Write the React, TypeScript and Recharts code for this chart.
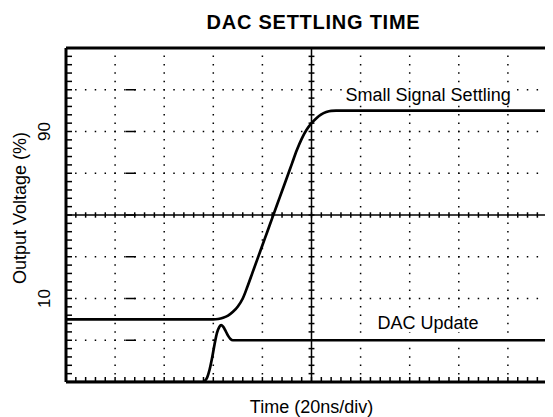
import React from 'react';
import { LineChart, Line, XAxis, YAxis, ReferenceLine, ReferenceDot } from 'recharts';

// ---- data (time in ns, output in %) ----
const smallSignalTime = [0, 60, 62, 64, 66, 68, 70, 72, 74, 76, 78, 80, 82, 84, 86, 88, 90, 92, 94, 96, 98, 100, 102, 104, 106, 108, 110, 200];
const smallSignalPct = [0, 0, 0.2, 0.8, 1.8, 3.6, 6.2, 10, 16, 22.5, 29, 35.5, 42, 48.5, 55, 61.5, 68, 74.5, 81, 86.5, 90.8, 94, 96.4, 98.2, 99.3, 99.9, 100, 100];

const dacUpdateTime = [0, 55.5, 56.5, 57.5, 58.5, 59.5, 60.5, 61.5, 62.5, 63.2, 64, 65, 66, 67, 68, 200];
const dacUpdatePct = [-30, -30, -29.5, -27.8, -24, -18.5, -12, -6.5, -3.5, -2.8, -3.5, -5.5, -7.8, -9.4, -10, -10];

const xDomain = [0, 200];
const yDomain = [-30, 130];
const xGridLines = [20, 40, 60, 80, 120, 140, 160, 180];
const yGridLines = [-10, 10, 30, 70, 90, 110];
const xCenter = 100;
const yCenter = 50;
const yLabelTicks = [10, 90];
const yMajorTicks = [-10, 10, 30, 50, 70, 90, 110];
const xMinorStep = 4;
const yMinorStep = 4;

const title = 'DAC SETTLING TIME';
const xTitle = 'Time (20ns/div)';
const yTitle = 'Output Voltage (%)';
const smallSignalLabel = { text: 'Small Signal Settling', x: 147.5, y: 107.5 };
const dacUpdateLabel = { text: 'DAC Update', x: 147.5, y: -1.8 };

const smallSignalData = smallSignalTime.map((t, i) => ({ x: t, y: smallSignalPct[i] }));
const dacUpdateData = dacUpdateTime.map((t, i) => ({ x: t, y: dacUpdatePct[i] }));

const xMinorTicks: number[] = [];
for (let v = xDomain[0]; v <= xDomain[1] + 1e-9; v += xMinorStep) xMinorTicks.push(v);
const yMinorTicks: number[] = [];
for (let v = yDomain[0]; v <= yDomain[1] + 1e-9; v += yMinorStep) yMinorTicks.push(v);

const FONT = "'Liberation Sans', Arial, Helvetica, sans-serif";
const INK = '#000';

const EmptyTick = () => <g />;

const YTick = (p: any) => {
  const { y, payload } = p;
  const cx = 36;
  return (
    <text x={cx} y={y} transform={`rotate(-90 ${cx} ${y})`} textAnchor="middle" dominantBaseline="central"
      fontSize={17} fill={INK} fontFamily={FONT}>{payload.value}</text>
  );
};

const YTitle = (p: any) => {
  const vb = p.viewBox || { x: 0, y: 40, height: 334 };
  const cx = 11.5;
  const cy = vb.y + vb.height / 2 - 7;
  return (
    <text x={cx} y={cy} transform={`rotate(-90 ${cx} ${cy})`} textAnchor="middle" dominantBaseline="central"
      fontSize={18} fill={INK} fontFamily={FONT}>{yTitle}</text>
  );
};

const XTitle = (p: any) => {
  const vb = p.viewBox || { x: 58, y: 374, width: 491, height: 35 };
  return (
    <text x={vb.x + vb.width / 2} y={vb.y + 31} textAnchor="middle" fontSize={18} fill={INK} fontFamily={FONT}>{xTitle}</text>
  );
};

const makeAnno = (text: string, boxW: number) => (p: any) => {
  const vb = p.viewBox || { x: 0, y: 0, width: 0, height: 0 };
  const cx = vb.x + (vb.width || 0) / 2;
  const cy = vb.y + (vb.height || 0) / 2;
  return (
    <g>
      <rect x={cx - boxW / 2} y={cy - 9} width={boxW} height={18} fill="#fff" />
      <text x={cx} y={cy} textAnchor="middle" dominantBaseline="central" fontSize={18} fill={INK} fontFamily={FONT}>{text}</text>
    </g>
  );
};

const SmallSignalAnno = makeAnno(smallSignalLabel.text, 172);
const DacUpdateAnno = makeAnno(dacUpdateLabel.text, 104);

const ids = { xAxisId: 'b', yAxisId: 'm' };

export default function App() {
  return (
    <div style={{ position: 'relative', width: 545, height: 409, overflow: 'hidden', background: '#fff' }}>
      <svg width={545} height={40} style={{ position: 'absolute', left: 0, top: 0 }}>
        <text x={305.5} y={20.5} textAnchor="middle" fontSize={20} fontWeight="bold" letterSpacing={0.75} fill={INK} fontFamily={FONT}>{title}</text>
      </svg>
      <div style={{ position: 'absolute', left: 0, top: 0 }}>
        <LineChart width={560} height={409} margin={{ top: 40, right: 11, bottom: 0, left: 0 }}>
          {/* label axes */}
          <XAxis xAxisId="lab" orientation="bottom" type="number" domain={xDomain} allowDataOverflow height={35} tick={false} tickLine={false} axisLine={false}
            label={<XTitle />} />
          <YAxis yAxisId="lab" orientation="left" type="number" domain={yDomain} allowDataOverflow width={58} ticks={yLabelTicks} interval={0}
            tick={<YTick />} tickLine={false} axisLine={false} tickSize={0} label={<YTitle />} />
          {/* border axes with inward minor ticks */}
          <XAxis xAxisId="b" dataKey="x" orientation="bottom" mirror type="number" domain={xDomain} allowDataOverflow ticks={xMinorTicks} interval={0}
            tick={<EmptyTick />} tickSize={5} tickLine={{ stroke: INK, strokeWidth: 1.5 }} axisLine={{ stroke: INK, strokeWidth: 3 }} />
          <XAxis xAxisId="t" orientation="top" mirror type="number" domain={xDomain} allowDataOverflow ticks={xMinorTicks} interval={0}
            tick={<EmptyTick />} tickSize={5} tickLine={{ stroke: INK, strokeWidth: 1.5 }} axisLine={{ stroke: INK, strokeWidth: 3 }} />
          <YAxis yAxisId="m" orientation="left" mirror type="number" domain={yDomain} allowDataOverflow ticks={yMinorTicks} interval={0}
            tick={<EmptyTick />} tickSize={6} tickLine={{ stroke: INK, strokeWidth: 1.5 }} axisLine={{ stroke: INK, strokeWidth: 3 }} />
          <YAxis yAxisId="mj" orientation="left" mirror type="number" domain={yDomain} allowDataOverflow ticks={yMajorTicks} interval={0}
            tick={<EmptyTick />} tickSize={10} tickLine={{ stroke: INK, strokeWidth: 1.5 }} axisLine={false} />

          {/* dotted graticule */}
          {xGridLines.map((v) => (
            <ReferenceLine key={'gx' + v} {...ids} x={v} stroke={INK} strokeWidth={1.5} strokeDasharray="1.5 6.85" strokeDashoffset={0.75} />
          ))}
          {yGridLines.map((v) => (
            <ReferenceLine key={'gy' + v} {...ids} y={v} stroke={INK} strokeWidth={1.5} strokeDasharray="1.5 8.32" strokeDashoffset={0.75} />
          ))}
          {/* center axes */}
          <ReferenceLine {...ids} x={xCenter} stroke={INK} strokeWidth={1.5} />
          <ReferenceLine {...ids} y={yCenter} stroke={INK} strokeWidth={1.5} />
          {xMinorTicks.map((v) => (
            <ReferenceLine key={'cx' + v} {...ids} segment={[{ x: v, y: yCenter - 1.3 }, { x: v, y: yCenter + 1.3 }]} stroke={INK} strokeWidth={1.5} />
          ))}
          {yMinorTicks.map((v) => (
            <ReferenceLine key={'cy' + v} {...ids} segment={[{ x: xCenter - 1.2, y: v }, { x: xCenter + 1.2, y: v }]} stroke={INK} strokeWidth={1.5} />
          ))}

          <ReferenceDot {...ids} x={smallSignalLabel.x} y={smallSignalLabel.y} r={0} stroke="none" fill="none"
            label={{ position: 'center', content: SmallSignalAnno }} />
          <ReferenceDot {...ids} x={dacUpdateLabel.x} y={dacUpdateLabel.y} r={0} stroke="none" fill="none"
            label={{ position: 'center', content: DacUpdateAnno }} />

          <Line {...ids} data={smallSignalData} dataKey="y" type="monotone" stroke={INK} strokeWidth={2.7} dot={false} isAnimationActive={false} />
          <Line {...ids} data={dacUpdateData} dataKey="y" type="monotone" stroke={INK} strokeWidth={2.7} dot={false} isAnimationActive={false} />
        </LineChart>
      </div>
    </div>
  );
}
